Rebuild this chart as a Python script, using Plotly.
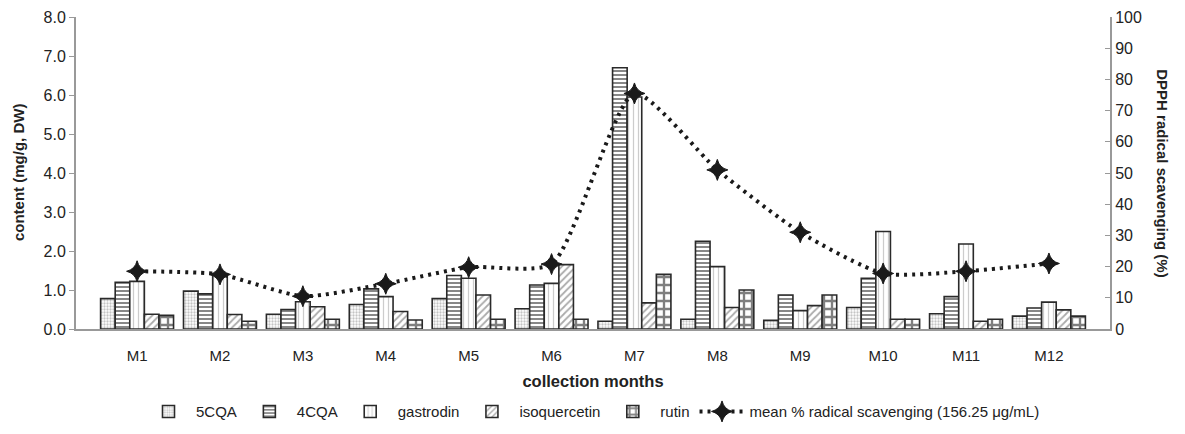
import plotly.graph_objects as go

months = ["M1", "M2", "M3", "M4", "M5", "M6", "M7", "M8", "M9", "M10", "M11", "M12"]
cqa5 = [0.78, 0.97, 0.38, 0.63, 0.78, 0.52, 0.20, 0.25, 0.22, 0.55, 0.39, 0.33]
cqa4 = [1.20, 0.90, 0.50, 1.03, 1.37, 1.13, 6.70, 2.25, 0.87, 1.30, 0.83, 0.54]
gastrodin = [1.22, 1.41, 0.70, 0.83, 1.30, 1.17, 5.95, 1.60, 0.47, 2.50, 2.18, 0.69]
isoquercetin = [0.38, 0.37, 0.57, 0.45, 0.87, 1.65, 0.67, 0.55, 0.60, 0.25, 0.20, 0.49]
rutin = [0.35, 0.20, 0.25, 0.23, 0.25, 0.25, 1.40, 1.00, 0.87, 0.25, 0.25, 0.33]
dpph = [18.5, 17.5, 10.5, 14.5, 19.8, 20.8, 75.5, 51.0, 31.0, 17.8, 18.5, 21.0]

series = [
    ("5CQA", cqa5, dict(shape=".", size=3, solidity=0.45, fgcolor="#8a8a8a")),
    ("4CQA", cqa4, dict(shape="-", size=4, solidity=0.5, fgcolor="#111111")),
    ("gastrodin", gastrodin, dict(shape="|", size=5, solidity=0.25, fgcolor="#9a9a9a")),
    ("isoquercetin", isoquercetin, dict(shape="/", size=5, solidity=0.35, fgcolor="#555555")),
    ("rutin", rutin, dict(shape="+", size=8, solidity=0.5, fgcolor="#000000")),
]

fig = go.Figure()
for name, vals, pat in series:
    fig.add_trace(go.Bar(
        x=months, y=vals, name=name,
        marker=dict(color="white", pattern=dict(bgcolor="white", **pat),
                    line=dict(color="#2a2a2a", width=1.6)),
    ))

fig.add_trace(go.Scatter(
    x=months, y=dpph, name="mean % radical scavenging (156.25 μg/mL)",
    yaxis="y2", mode="lines+markers",
    line=dict(color="#1a1a1a", width=4, dash="3px,5px", shape="spline", smoothing=0.6),
    marker=dict(symbol="star-diamond", size=15, color="#1a1a1a",
                line=dict(color="#1a1a1a", width=1)),
))

font = "Liberation Sans, Arial, sans-serif"
fig.update_layout(
    width=1169, height=418,
    margin=dict(l=68, r=67, t=9, b=97, autoexpand=False),
    plot_bgcolor="white", paper_bgcolor="white",
    font=dict(family=font, size=14, color="#222222"),
    barmode="group", bargap=0.12, bargroupgap=0,
    showlegend=True,
    legend=dict(orientation="h", x=0.5, xanchor="center", y=-0.265, yanchor="middle",
                font=dict(size=15), traceorder="normal", itemwidth=45),
    xaxis=dict(showline=True, linecolor="#999999", linewidth=2, ticks="",
               tickfont=dict(size=15), ticklabelstandoff=12, automargin=False,
               title=dict(text="<b>collection months</b>", font=dict(size=16.5), standoff=12)),
    yaxis=dict(range=[0, 8], dtick=1, tickformat=".1f", showgrid=False, zeroline=False,
               showline=True, linecolor="#999999", linewidth=2, ticks="outside",
               ticklen=5, tickcolor="#999999", tickfont=dict(size=16), automargin=False),
    yaxis2=dict(range=[0, 100], dtick=10, overlaying="y", side="right", showgrid=False,
                zeroline=False, showline=True, linecolor="#999999", linewidth=2,
                ticks="inside", ticklen=5, tickcolor="#999999", tickfont=dict(size=16),
                automargin=False),
    annotations=[
        dict(text="<b>content (mg/g, DW)</b>", xref="paper", yref="paper", x=-0.056, y=0.5,
             textangle=-90, showarrow=False, font=dict(size=15), xanchor="center", yanchor="middle"),
        dict(text="<b>DPPH radical scavenging (%)</b>", xref="paper", yref="paper", x=1.051, y=0.5,
             textangle=90, showarrow=False, font=dict(size=15), xanchor="center", yanchor="middle"),
    ],
)

fig.write_html("out.html")
